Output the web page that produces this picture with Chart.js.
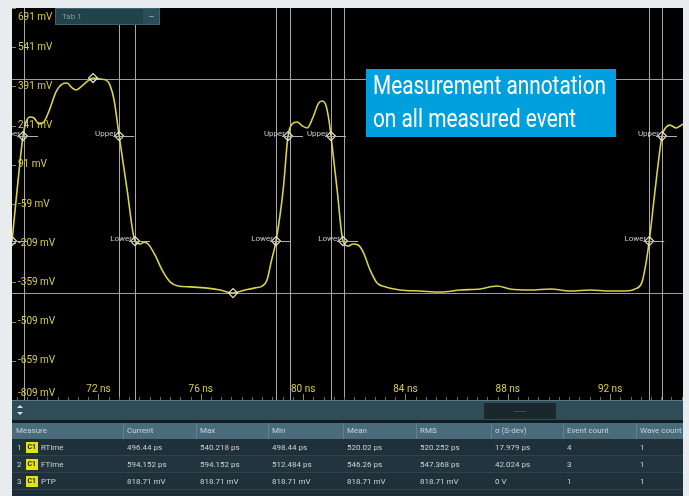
<!DOCTYPE html>
<html>
<head>
<meta charset="utf-8">
<script src="https://cdn.jsdelivr.net/npm/chart.js@4.4.1/dist/chart.umd.min.js"></script>
<style>
  html, body { margin: 0; padding: 0; background: #e8ecee; }
  #wrap { width: 689px; height: 496px; }
</style>
</head>
<body>
<div id="wrap"><canvas id="scope" width="689" height="496"></canvas></div>
<script>
// waveform (time in ns, level in mV)
const timeNs = [68.62, 68.82, 69.05, 69.17, 69.33, 69.48, 69.68, 69.87, 70.11, 70.34, 70.58, 70.77,
  70.97, 71.13, 71.36, 71.59, 71.79, 72.06, 72.30, 72.45, 72.61, 72.81, 73.12, 73.43, 73.63, 73.79,
  73.94, 74.21, 74.49, 74.80, 75.11, 75.58, 76.17, 76.76, 77.26, 77.73, 78.12, 78.40, 78.59, 78.75,
  78.94, 79.22, 79.41, 79.57, 79.77, 79.96, 80.16, 80.39, 80.59, 80.74, 80.90, 81.02, 81.09, 81.33,
  81.56, 81.76, 81.95, 82.15, 82.35, 82.62, 82.89, 83.21, 83.79, 84.57, 85.36, 86.14, 86.92, 87.58,
  88.09, 88.87, 89.66, 90.44, 91.22, 92.00, 92.59, 92.98, 93.25, 93.41, 93.53, 93.76, 94.03, 94.19,
  94.34, 94.58, 94.85];
const voltMv = [-201, -5, 201, 255, 274, 270, 247, 255, 308, 370, 400, 404,
  385, 377, 393, 412, 423, 419, 415, 396, 339, 201, -5, -201, -212, -205,
  -212, -254, -312, -357, -373, -376, -380, -388, -400, -388, -380, -373, -350, -281,
  -201, -5, 201, 247, 255, 240, 232, 274, 324, 335, 316, 255, 201, -5,
  -201, -220, -212, -216, -243, -312, -361, -376, -388, -392, -396, -388, -384, -373,
  -384, -388, -384, -392, -388, -392, -392, -384, -357, -281, -201, -5, 201, 235,
  243, 232, 247];

// measurement events
const upperTimes = [69.05, 72.81, 79.41, 81.09, 94.03];
const lowerTimes = [68.62, 73.43, 78.94, 81.56, 93.53];
const extremaTimes = [71.79, 77.26];
const extremaMv = [423, -400];
const cursorTimes = [69.07, 72.81, 73.43, 78.94, 79.47, 81.09, 81.58, 93.53, 94.03];
const upperMv = 201;
const lowerMv = -201;
const topLevelMv = 421;
const baseLevelMv = -400;

// axes
const voltTicks = [691, 541, 391, 241, 91, -59, -209, -359, -509, -659, -809];
const timeTicks = [72, 76, 80, 84, 88, 92];

// measurement table
const tableHeaders = ['Measure', 'Current', 'Max', 'Min', 'Mean', 'RMS', 'σ (S-dev)', 'Event count', 'Wave count'];
const rowNames = ['RTime', 'FTime', 'PTP'];
const rowCurrent = ['496.44 ps', '594.152 ps', '818.71 mV'];
const rowMax = ['540.218 ps', '594.152 ps', '818.71 mV'];
const rowMin = ['498.44 ps', '512.484 ps', '818.71 mV'];
const rowMean = ['520.02 ps', '546.26 ps', '818.71 mV'];
const rowRms = ['520.252 ps', '547.368 ps', '818.71 mV'];
const rowSdev = ['17.979 ps', '42.024 ps', '0 V'];
const rowEvents = ['4', '3', '1'];
const rowWaves = ['1', '1', '1'];

const YELLOW = '#d6cf45';
const FONT = 'Roboto, "DejaVu Sans", sans-serif';

const scopePlugin = {
  id: 'scope',
  beforeDraw(chart) {
    const { ctx, chartArea: a, scales: { x, y } } = chart;
    ctx.save();
    ctx.fillStyle = '#e8ecee';
    ctx.fillRect(0, 0, chart.width, chart.height);
    ctx.fillStyle = '#000';
    ctx.fillRect(a.left, a.top, a.right - a.left, a.bottom - a.top);

    // level lines
    ctx.strokeStyle = '#9c9c9c';
    ctx.lineWidth = 1;
    [topLevelMv, baseLevelMv].forEach(v => {
      const py = Math.round(y.getPixelForValue(v)) + 0.5;
      ctx.beginPath(); ctx.moveTo(a.left, py); ctx.lineTo(a.right, py); ctx.stroke();
    });
    // cursors
    ctx.strokeStyle = '#a8a8a8';
    cursorTimes.forEach(t => {
      const px = Math.round(x.getPixelForValue(t)) + 0.5;
      ctx.beginPath(); ctx.moveTo(px, a.top); ctx.lineTo(px, a.bottom); ctx.stroke();
    });

    // y labels
    ctx.font = '10px ' + FONT;
    ctx.textBaseline = 'middle';
    ctx.textAlign = 'left';
    voltTicks.forEach(v => {
      const py = y.getPixelForValue(v);
      const ly = Math.max(a.top + 9, Math.min(a.bottom - 7, py));
      ctx.fillStyle = '#8c8a50';
      ctx.fillRect(a.left, Math.round(py), 4, 1);
      ctx.fillStyle = YELLOW;
      ctx.fillText(v + ' mV', a.left + 6, ly);
    });
    // x ticks
    for (let t = 68.8; t < 94.85; t += 0.4) {
      const px = Math.round(x.getPixelForValue(t));
      ctx.fillStyle = '#6d6c48';
      ctx.fillRect(px, a.bottom - 3, 1, 3);
    }
    ctx.textAlign = 'center';
    timeTicks.forEach(t => {
      const px = x.getPixelForValue(t);
      ctx.fillStyle = '#8c8a50';
      ctx.fillRect(Math.round(px), a.bottom - 6, 1, 6);
      ctx.fillStyle = YELLOW;
      ctx.fillText(t + ' ns', px, a.bottom - 11);
    });
    ctx.restore();
  },
  afterDatasetsDraw(chart) {
    const { ctx, chartArea: a, scales: { x, y } } = chart;
    ctx.save();
    ctx.beginPath();
    ctx.rect(a.left, a.top, a.right - a.left, a.bottom - a.top);
    ctx.clip();
    ctx.font = '8px ' + FONT;
    ctx.textAlign = 'right';
    ctx.textBaseline = 'bottom';
    const mark = (times, v, label) => times.forEach(t => {
      const px = x.getPixelForValue(t), py = Math.round(y.getPixelForValue(v)) + 0.5;
      ctx.strokeStyle = '#b0b0b0';
      ctx.beginPath(); ctx.moveTo(px - 6, py); ctx.lineTo(px + 15, py); ctx.stroke();
      ctx.fillStyle = '#c8c8c8';
      ctx.fillText(label, px - 3, py + 1);
    });
    mark(upperTimes, upperMv, 'Upper');
    mark(lowerTimes, lowerMv, 'Lower');
    ctx.restore();

    // tab
    ctx.save();
    ctx.fillStyle = '#23414b';
    ctx.fillRect(55, 8, 105, 17);
    ctx.fillStyle = '#2b4d58';
    ctx.fillRect(143, 8, 17, 17);
    ctx.strokeStyle = '#3e6470';
    ctx.strokeRect(55.5, 8.5, 104, 16);
    ctx.fillStyle = '#7e979f';
    ctx.font = '8px ' + FONT;
    ctx.textBaseline = 'middle';
    ctx.fillText('Tab 1', 62, 17);
    ctx.fillRect(149, 16, 5, 1);

    // annotation
    ctx.fillStyle = '#00a0df';
    ctx.fillRect(366, 69, 250, 68);
    ctx.fillStyle = '#ffffff';
    ctx.font = '25px ' + FONT;
    ctx.textBaseline = 'alphabetic';
    ctx.textAlign = 'left';
    const w = ctx.measureText('Measurement annotation').width;
    const sx = 233 / w;
    ctx.save();
    ctx.translate(373, 0);
    ctx.scale(sx, 1);
    ctx.fillText('Measurement annotation', 0, 94);
    ctx.fillText('on all measured event', 0, 127);
    ctx.restore();
    ctx.restore();

    drawTable(ctx);
  }
};

function drawTable(ctx) {
  const colX = [16, 127, 200, 272, 347, 420, 495, 567, 640];
  const left = 12, right = 683;
  ctx.save();
  ctx.fillStyle = '#1d2e36';
  ctx.fillRect(left, 400, right - left, 96);
  ctx.fillStyle = '#5b7985';
  ctx.fillRect(left, 400, right - left, 1);
  ctx.fillStyle = '#2f4c57';
  ctx.fillRect(left, 401, right - left, 19);
  ctx.fillStyle = '#1a272d';
  ctx.fillRect(484, 403, 72, 16);
  ctx.fillStyle = '#3a4c53';
  ctx.fillRect(514, 411, 12, 1);
  ctx.fillStyle = '#111c21';
  ctx.fillRect(left, 420, right - left, 3);
  // up/down arrows
  ctx.fillStyle = '#d8e0e4';
  ctx.beginPath(); ctx.moveTo(20, 405); ctx.lineTo(23, 408); ctx.lineTo(17, 408); ctx.fill();
  ctx.beginPath(); ctx.moveTo(20, 415); ctx.lineTo(23, 412); ctx.lineTo(17, 412); ctx.fill();

  // header
  ctx.fillStyle = '#4a6c7a';
  ctx.fillRect(left, 423, right - left, 16);
  ctx.font = '8px ' + FONT;
  ctx.textBaseline = 'middle';
  ctx.textAlign = 'left';
  tableHeaders.forEach((h, i) => {
    if (i > 0) {
      ctx.fillStyle = '#5f8392';
      ctx.fillRect(colX[i] - 4, 423, 1, 16);
    }
    ctx.fillStyle = '#c3d3da';
    ctx.fillText(h, colX[i], 431);
  });

  const cols = [rowCurrent, rowMax, rowMin, rowMean, rowRms, rowSdev, rowEvents, rowWaves];
  rowNames.forEach((name, r) => {
    const top = 439 + r * 17;
    ctx.fillStyle = r % 2 ? '#22353e' : '#1f3039';
    ctx.fillRect(left, top, right - left, 17);
    ctx.fillStyle = '#2d434d';
    ctx.fillRect(left, top + 16, right - left, 1);
    const cy = top + 8.5;
    ctx.fillStyle = '#c9d2d6';
    ctx.fillText(String(r + 1), 17, cy);
    ctx.fillStyle = '#e3e01c';
    ctx.fillRect(26, cy - 5.5, 12, 11);
    ctx.fillStyle = '#2a2a10';
    ctx.font = 'bold 7px ' + FONT;
    ctx.fillText('C1', 27.5, cy);
    ctx.font = '8px ' + FONT;
    ctx.fillStyle = '#c9d2d6';
    ctx.fillText(name, 41, cy);
    cols.forEach((col, c) => ctx.fillText(col[r], colX[c + 1], cy));
  });
  ctx.restore();
}

new Chart(document.getElementById('scope'), {
  type: 'line',
  data: {
    datasets: [
      {
        label: 'C1',
        data: timeNs.map((t, i) => ({ x: t, y: voltMv[i] })),
        borderColor: '#d8d24e',
        borderWidth: 1.6,
        pointRadius: 0,
        cubicInterpolationMode: 'monotone',
        clip: 0,
        order: 2
      },
      {
        label: 'events',
        data: upperTimes.map(t => ({ x: t, y: upperMv }))
          .concat(lowerTimes.map(t => ({ x: t, y: lowerMv })))
          .concat(extremaTimes.map((t, i) => ({ x: t, y: extremaMv[i] }))),
        showLine: false,
        pointStyle: 'rectRot',
        pointRadius: 4.5,
        pointBorderWidth: 1.2,
        pointBorderColor: '#e2e2e2',
        pointBackgroundColor: 'rgba(0,0,0,0)',
        clip: 0,
        order: 1
      }
    ]
  },
  options: {
    responsive: false,
    animation: false,
    layout: { padding: { left: 12, top: 8, right: 6, bottom: 96 } },
    scales: {
      x: { type: 'linear', min: 68.62, max: 94.85, display: false },
      y: { min: -809, max: 691, display: false }
    },
    plugins: { legend: { display: false }, tooltip: { enabled: false } }
  },
  plugins: [scopePlugin]
});
</script>
</body>
</html>
